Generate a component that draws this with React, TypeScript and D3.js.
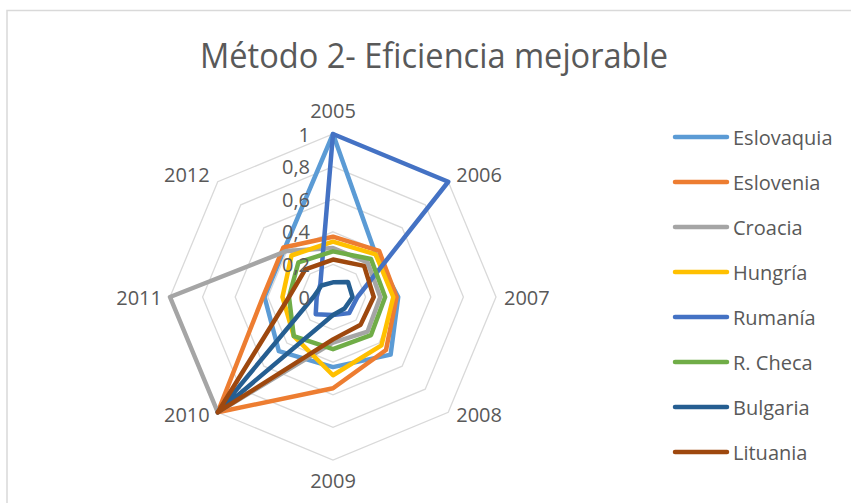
import React from 'react';
import * as d3 from 'd3';

const years = ['2005', '2006', '2007', '2008', '2009', '2010', '2011', '2012'];
const ticks = [0, 0.2, 0.4, 0.6, 0.8, 1];
const tickLabels = ['0', '0,2', '0,4', '0,6', '0,8', '1'];

const eslovaquia = [1, 0.37, 0.4, 0.5, 0.43, 0.47, 0.42, 0.42];
const eslovenia = [0.37, 0.4, 0.39, 0.46, 0.56, 1, 0.43, 0.43];
const croacia = [0.3, 0.3, 0.29, 0.3, 0.28, 1, 1, 0.4];
const hungria = [0.34, 0.37, 0.37, 0.42, 0.48, 0.34, 0.31, 0.36];
const rumania = [1, 1, 0.15, 0.14, 0.11, 0.15, 0.1, 0.11];
const rCheca = [0.28, 0.33, 0.32, 0.33, 0.32, 0.34, 0.27, 0.3];
const bulgaria = [0.09, 0.13, 0.12, 0.1, 0.11, 1, 0.12, 0.1];
const lituania = [0.23, 0.27, 0.25, 0.24, 0.26, 1, 0.27, 0.24];

const names = ['Eslovaquia', 'Eslovenia', 'Croacia', 'Hungría', 'Rumanía', 'R. Checa', 'Bulgaria', 'Lituania'];
const values = [eslovaquia, eslovenia, croacia, hungria, rumania, rCheca, bulgaria, lituania];
const colors = ['#5B9BD5', '#ED7D31', '#A5A5A5', '#FFC000', '#4472C4', '#70AD47', '#255E91', '#9E480E'];

const W = 851;
const H = 503;
const cx = 333;
const cy = 297;
const R = 163;
const font = '"Open Sans", sans-serif';
const textColor = '#595959';

// excel nudges the category labels a bit differently top vs bottom
const labelDy = (c: number) => (c > 0.9 ? -24 : c > 0.5 ? -7 : c > -0.5 ? 0 : c > -0.9 ? 2 : 20);

export default function App() {
  const angle = d3.scaleLinear().domain([0, years.length]).range([0, 2 * Math.PI]);
  const r = d3.scaleLinear().domain([0, 1]).range([0, R]);

  const line = d3.lineRadial<number>()
    .angle((d, i) => angle(i))
    .radius(d => r(d))
    .curve(d3.curveLinearClosed);

  const ring = (v: number) => line(years.map(() => v)) as string;

  const legendY = d3.scalePoint<string>().domain(names).range([137, 452]);

  return (
    <svg width={W} height={H} style={{ position: 'absolute', left: 0, top: 0, background: '#fff' }}>
      <rect x={7} y={10.5} width={W + 20} height={H + 20} fill="#fff" stroke="#D9D9D9" strokeWidth={1.5} />
      <text x={434} y={68} textAnchor="middle" fontFamily={font} fontSize={34} fill={textColor}
        textLength={468} lengthAdjust="spacingAndGlyphs">
        Método 2- Eficiencia mejorable
      </text>
      <g transform={`translate(${cx},${cy})`}>
        {ticks.filter(t => t > 0).map(t => (
          <path key={t} d={ring(t)} fill="none" stroke="#D9D9D9" strokeWidth={1.3} />
        ))}
        {values.map((vals, i) => (
          <path key={names[i]} d={line(vals) as string} fill="none" stroke={colors[i]}
            strokeWidth={4.5} strokeLinejoin="round" />
        ))}
        {ticks.map((t, i) => (
          <text key={t} x={-23} y={-r(t)} textAnchor="end" dominantBaseline="central"
            fontFamily={font} fontSize={20} fill={textColor}>
            {tickLabels[i]}
          </text>
        ))}
        {years.map((y, i) => {
          const a = angle(i);
          const s = Math.sin(a);
          const c = Math.cos(a);
          const side = Math.abs(s) < 0.01 ? 0 : Math.sign(s);
          const anchor = side === 0 ? 'middle' : side > 0 ? 'start' : 'end';
          const x = r(1) * s + side * 8;
          const yy = -r(1) * c + labelDy(c);
          return (
            <text key={y} x={x} y={yy} textAnchor={anchor} dominantBaseline="central"
              fontFamily={font} fontSize={20} fill={textColor}>
              {y}
            </text>
          );
        })}
      </g>
      {names.map((n, i) => (
        <g key={n} transform={`translate(0,${legendY(n)})`}>
          <line x1={675} x2={727} y1={0} y2={0} stroke={colors[i]} strokeWidth={4.5} strokeLinecap="round" />
          <text x={733} y={0} dominantBaseline="central" fontFamily={font} fontSize={20} fill={textColor}>
            {n}
          </text>
        </g>
      ))}
    </svg>
  );
}
